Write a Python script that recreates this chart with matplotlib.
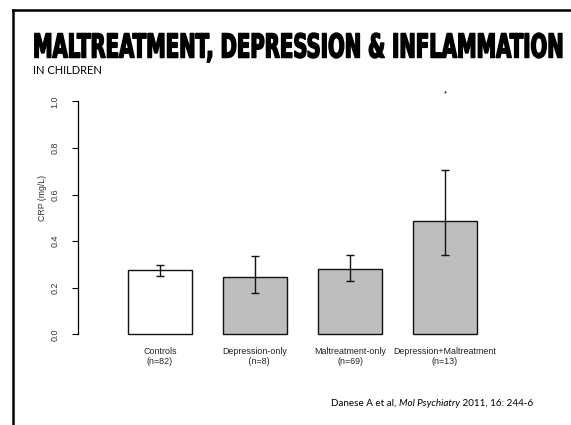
import matplotlib
matplotlib.use("Agg")
import matplotlib.pyplot as plt
from matplotlib.lines import Line2D
from matplotlib.patheffects import AbstractPathEffect
from matplotlib.transforms import Affine2D

categories = ["Controls\n(n=82)", "Depression-only\n   (n=8)", "Maltreatment-only\n(n=69)", "Depression+Maltreatment\n(n=13)"]
values = [0.275, 0.245, 0.279, 0.488]
err_low = [0.252, 0.179, 0.229, 0.340]
err_high = [0.299, 0.335, 0.339, 0.705]
bar_colors = ["white", "#BEBEBE", "#BEBEBE", "#BEBEBE"]
yticks = [0.0, 0.2, 0.4, 0.6, 0.8, 1.0]
ytick_labels = ["0.0", "0.2", "0.4", "0.6", "0.8", "1.0"]
star_pos = (3, 1.03)

W, H = 571, 425
DPI = 100
fig = plt.figure(figsize=(W / DPI, H / DPI), dpi=DPI)

def px(x, y):
    return x / W, 1 - y / H

left, right, top, bottom = 78, 494, 90, 345
ax = fig.add_axes([left / W, 1 - bottom / H, (right - left) / W, (bottom - top) / H])
ax.set_facecolor("none")
y0 = 334.3
ppu = 233.0
ax.set_ylim(-(bottom - y0) / ppu, 1 + (101.3 - top) / ppu)
ax.set_xlim(-(160 - left) / 95.0, (right - 160) / 95.0)

xs = list(range(len(values)))
yerr = [[v - lo for v, lo in zip(values, err_low)], [hi - v for v, hi in zip(values, err_high)]]
ax.bar(xs, values, width=64 / 95.0, color=bar_colors, edgecolor="#111111", linewidth=1.0, zorder=2)
ax.errorbar(xs, values, yerr=yerr, fmt="none", ecolor="#111111", elinewidth=1.0, capsize=2.9, capthick=1.0, zorder=3)
ax.text(star_pos[0], star_pos[1], "*", ha="center", va="center", fontsize=5.5, family="Liberation Sans")

for s in ["top", "right", "bottom"]:
    ax.spines[s].set_visible(False)
ax.spines["left"].set_bounds(0, 1)
ax.spines["left"].set_linewidth(0.9)
ax.set_yticks(yticks)
ax.set_yticklabels(ytick_labels, rotation=90, va="center", family="Liberation Sans", fontsize=6.4, color="#333333")
ax.tick_params(axis="y", length=4, width=0.8, pad=9.5)
ax.set_xticks([])

fig.text(*px(42.5, 198), "CRP (mg/L)", rotation=90, ha="center", va="center", fontsize=6.3, family="Liberation Sans", color="#333333")

for i, lab in enumerate(categories):
    fig.text(*px(160 + 95 * i, 356.5), lab, ha="center", va="center", fontsize=6.4, family="Liberation Sans",
             color="#222222", multialignment="center")

# slide border
fig.add_artist(Line2D([13 / W, 1], [1 - 10 / H, 1 - 10 / H], transform=fig.transFigure, color="black", lw=1.8))
fig.add_artist(Line2D([13 / W, 13 / W], [1 - 10 / H, 0], transform=fig.transFigure, color="black", lw=1.8))


class Stretch(AbstractPathEffect):
    def __init__(self, sx, sy, x0, y0, lw=0.0):
        super().__init__()
        self.sx, self.sy, self.x0, self.y0, self.lw = sx, sy, x0, y0, lw

    def draw_path(self, renderer, gc, tpath, affine, rgbFace=None):
        a = affine + Affine2D().translate(-self.x0, -self.y0).scale(self.sx, self.sy).translate(self.x0, self.y0)
        gc0 = renderer.new_gc()
        gc0.copy_properties(gc)
        gc0.set_linewidth(self.lw)
        gc0.set_foreground("black")
        renderer.draw_path(gc0, tpath, a, rgbFace)
        gc0.restore()


title_x0, title_x1 = 33, 564
title_base = 57.5
title_fs = 14
title = fig.text(*px(title_x0, title_base), "MALTREATMENT, DEPRESSION & INFLAMMATION", ha="left", va="baseline",
                 fontsize=title_fs, fontweight="bold", family="DejaVu Sans", color="black")
renderer = fig.canvas.get_renderer()
bb = title.get_window_extent(renderer)
sx = (title_x1 - title_x0) / bb.width
cap_px = 0.729 * title_fs * DPI / 72.0
sy = 24.0 / cap_px
title.set_path_effects([Stretch(sx, sy, title_x0, H - title_base, lw=1.1)])

fig.text(*px(33, 74), "IN CHILDREN", ha="left", va="baseline", fontsize=8.0, family="Lato", color="black")

parts = [("Danese A et al, ", "normal"), ("Mol Psychiatry", "italic"), (" 2011, 16: 244-6", "normal")]
cx = 331
for txt, style in parts:
    t = fig.text(*px(cx, 406), txt, ha="left", va="baseline", fontsize=7.1, family="Lato", style=style, color="black")
    cx += t.get_window_extent(renderer).width

fig.savefig("out.png", dpi=DPI)
